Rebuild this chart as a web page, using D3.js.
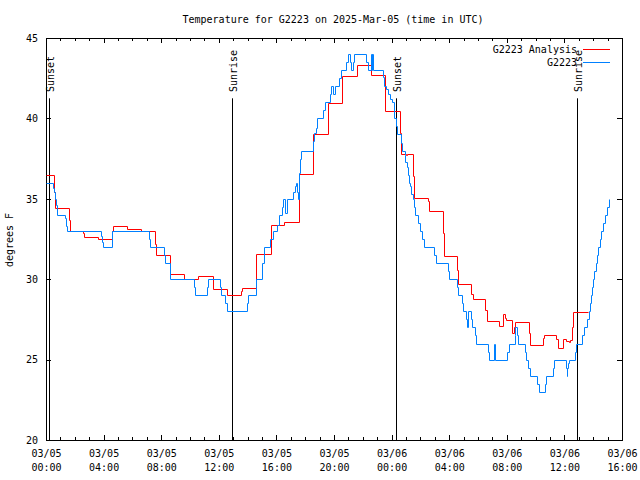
<!DOCTYPE html>
<html>
<head>
<meta charset="utf-8">
<script src="https://cdn.jsdelivr.net/npm/d3@7"></script>
<style>
  html, body { margin: 0; padding: 0; background: #fff; }
  svg { display: block; }
  text { font-family: "DejaVu Sans Mono", "Liberation Mono", monospace; font-size: 10px; fill: #000; }
</style>
</head>
<body>
<svg id="chart" width="640" height="480"></svg>
<script>
// ---- data ----
const titleText = "Temperature for G2223 on 2025-Mar-05 (time in UTC)";
const yLabel = "degrees F";
const xTickHours = [0, 4, 8, 12, 16, 20, 24, 28, 32, 36, 40];
const xTickDates = ["03/05","03/05","03/05","03/05","03/05","03/05","03/06","03/06","03/06","03/06","03/06"];
const xTickTimes = ["00:00","04:00","08:00","12:00","16:00","20:00","00:00","04:00","08:00","12:00","16:00"];
const yTicks = [20, 25, 30, 35, 40, 45];

const eventNames = ["Sunset", "Sunrise", "Sunset", "Sunrise"];
const eventHours = [0.24, 12.93, 24.32, 36.86];

const seriesNames = ["G2223 Analysis", "G2223"];

// analysis (hours since 03/05 00:00 UTC, degrees F)
const analysisHours = [0,0.58,0.65,1.58,1.65,2.56,2.65,3.62,4.57,4.64,5.6,6.62,7.55,7.62,8.58,9.58,10.55,11.58,12.58,13.55,13.62,14.58,15.6,16.56,17.56,18.54,19.57,20.54,21.58,22.58,23.55,24.55,24.62,25.0,25.1,25.52,25.59,26.51,26.63,27.56,27.63,28.53,28.6,29.53,29.64,30.52,30.61,31.49,31.72,31.85,31.96,32.35,32.49,32.6,33.53,33.62,34.5,34.57,35.4,35.59,35.9,36.12,36.3,36.42,36.55,36.6,37.63];
const analysisTemps = [36.5,35.4,34.4,33.7,33.0,32.85,32.65,32.5,33.0,33.3,33.15,33.0,32.2,31.5,30.35,30.0,30.2,29.36,29.0,29.25,29.46,31.54,33.4,33.55,36.55,39.04,40.97,42.62,43.31,42.67,40.49,39.1,37.76,37.7,37.76,36.41,35.06,34.85,34.27,32.88,31.43,30.6,29.73,29.05,28.74,28.1,27.43,27.12,27.85,27.6,27.45,26.67,27.0,27.35,26.67,25.88,26.36,26.54,26.3,25.73,26.3,26.15,26.1,26.2,27.0,27.97,27.97];

// observations
const obsHours = [0,0.47,0.53,0.6,0.68,0.75,1.33,1.4,1.45,3.83,3.9,3.95,4.6,7.14,7.2,8.2,8.25,8.58,10.31,10.38,11.17,11.24,12.05,12.13,12.44,12.58,13.95,14.05,14.55,14.6,15.01,15.13,15.55,15.75,16.03,16.15,16.4,16.49,16.63,16.72,17.14,17.26,17.33,17.42,17.5,17.56,17.6,17.65,17.72,18.53,18.6,18.72,18.83,19.27,19.39,19.69,19.76,19.92,20.05,20.38,20.5,20.85,20.96,21.08,21.19,21.31,21.42,22.24,22.35,22.55,22.62,22.66,22.72,23.39,23.45,23.62,23.72,23.86,24.04,24.2,24.3,24.36,24.62,24.71,24.9,24.96,25.06,25.13,25.2,25.29,25.36,25.48,25.59,25.64,25.85,25.94,26.13,26.24,26.95,27.05,27.93,28.02,28.52,28.6,28.87,28.95,29.2,29.27,29.34,29.5,29.6,29.8,29.88,30.72,30.75,31.1,31.15,32.03,32.14,32.57,32.6,32.72,32.77,33.26,33.35,33.47,33.58,34.12,34.22,34.66,34.73,35.23,35.31,36.1,36.15,36.2,36.28,36.35,36.72,36.82,37.24,37.33,37.6,37.7,37.77,37.84,37.92,38.0,38.08,38.17,38.26,38.36,38.46,38.57,38.7,38.83,38.96,39.09];
const obsTemps = [36,35.7,35.4,35,34.6,34,33.8,33.3,33,32.7,32.3,32,33,32.5,32,31.5,31,30,29.5,29,29.5,30,29.5,29,28.5,28,28.5,29,29.5,30,31,32,32.5,33,33.4,34,34.5,35,34.1,35,35.4,35.8,36,35.4,35,35.4,36.6,37.5,38,38.6,39.1,39.4,40,40.5,41,41.5,42,41.5,42,42.5,43,43.5,44,43.5,43,43.5,44,43.5,43,44,43,44,43,42.6,42,41.8,41.5,41.2,41,40,39.5,39,38.5,38,37.7,37.3,37,36.5,36,35.8,35.3,35,34.5,34,33.5,33,32.5,32,31.5,31,30.5,30,29.5,29,28.5,28,27.5,27,28,27.5,27,26.5,26,25.5,25,26,25,25.5,26,26.5,27,26.5,26,25.5,25,24.5,24,23.5,23,23.5,24,24.5,25,24.5,24,24.5,24.8,25,25.5,26,26.5,27,27.5,28,28.5,29,29.5,30,30.5,31,31.5,32,32.5,33,33.5,34,34.5,35];

// ---- layout ----
const L = 46, R = 622, T = 38, B = 440;
const svg = d3.select("#chart");

const x = d3.scaleLinear().domain([0, 40]).range([L, R]);
const y = d3.scaleLinear().domain([20, 45]).range([B, T]);
const px = v => Math.round(v) + 0.5;

// title
svg.append("text").attr("x", 333).attr("y", 23).attr("text-anchor", "middle").text(titleText);

// y label
svg.append("text").attr("transform", "translate(13,240) rotate(-90)")
   .attr("text-anchor", "middle").text(yLabel);

const minorHours = d3.range(0, 41).filter(h => h % 4 !== 0);

const gx = svg.append("g").attr("transform", `translate(0,${B})`)
  .call(d3.axisBottom(x).tickValues(xTickHours).tickSizeInner(-5).tickSizeOuter(0).tickPadding(6)
        .tickFormat((d, i) => xTickDates[i]));
gx.select(".domain").remove();
gx.selectAll(".tick text").each(function(d, i) {
  const t = d3.select(this);
  t.text(null).attr("dy", null);
  t.append("tspan").attr("x", 0).attr("dy", "11").text(xTickDates[i]);
  t.append("tspan").attr("x", 0).attr("dy", "14").text(xTickTimes[i]);
});

svg.append("g").attr("transform", `translate(0,${B})`)
  .call(d3.axisBottom(x).tickValues(minorHours).tickSize(-3).tickFormat(""))
  .select(".domain").remove();

svg.append("g").attr("transform", `translate(0,${T})`)
  .call(d3.axisTop(x).tickValues(xTickHours).tickSize(-5).tickFormat(""))
  .select(".domain").remove();
svg.append("g").attr("transform", `translate(0,${T})`)
  .call(d3.axisTop(x).tickValues(minorHours).tickSize(-3).tickFormat(""))
  .select(".domain").remove();

const gy = svg.append("g").attr("transform", `translate(${L},0)`)
  .call(d3.axisLeft(y).tickValues(yTicks).tickSizeInner(-5).tickSizeOuter(0).tickPadding(8));
gy.select(".domain").remove();

svg.append("g").attr("transform", `translate(${R},0)`)
  .call(d3.axisRight(y).tickValues(yTicks).tickSize(-5).tickFormat(""))
  .select(".domain").remove();

svg.selectAll(".tick line").attr("stroke", "#000").attr("shape-rendering", "crispEdges");
svg.selectAll(".tick text").style("font-family", '"DejaVu Sans Mono", monospace').style("font-size", "10px").attr("fill", "#000");

// border
svg.append("rect").attr("x", L + 0.5).attr("y", T + 0.5).attr("width", R - L).attr("height", B - T)
   .attr("fill", "none").attr("stroke", "#000").attr("stroke-width", 1);

// sunrise / sunset markers
const lineTopY = T + (B - T) * 0.15;
eventHours.forEach((h, i) => {
  svg.append("line").attr("x1", px(x(h))).attr("x2", px(x(h))).attr("y1", B).attr("y2", lineTopY)
     .attr("stroke", "#000").attr("stroke-width", 1);
  svg.append("text").attr("transform", `translate(${Math.round(x(h)) + 5},92) rotate(-90)`)
     .attr("text-anchor", "start").text(eventNames[i]);
});

// series
const line = d3.line().x(d => px(x(d[0]))).y(d => px(y(d[1]))).curve(d3.curveStepAfter);
const analysisData = analysisHours.map((h, i) => [h, analysisTemps[i]]);
const obsData = obsHours.map((h, i) => [h, obsTemps[i]]);

svg.append("path").datum(analysisData).attr("d", line).attr("fill", "none")
   .attr("stroke", "#ff0000").attr("stroke-width", 1);
svg.append("path").datum(obsData).attr("d", line).attr("fill", "none")
   .attr("stroke", "#0080ff").attr("stroke-width", 1);

// legend
const legendColors = ["#ff0000", "#0080ff"];
const legendY = [49, 62];
seriesNames.forEach((name, i) => {
  svg.append("text").attr("x", 577).attr("y", legendY[i]).attr("dy", "0.35em")
     .attr("text-anchor", "end").text(name);
  svg.append("line").attr("x1", 583).attr("x2", 610).attr("y1", legendY[i] + 0.5).attr("y2", legendY[i] + 0.5)
     .attr("stroke", legendColors[i]).attr("stroke-width", 1);
});
</script>
</body>
</html>
